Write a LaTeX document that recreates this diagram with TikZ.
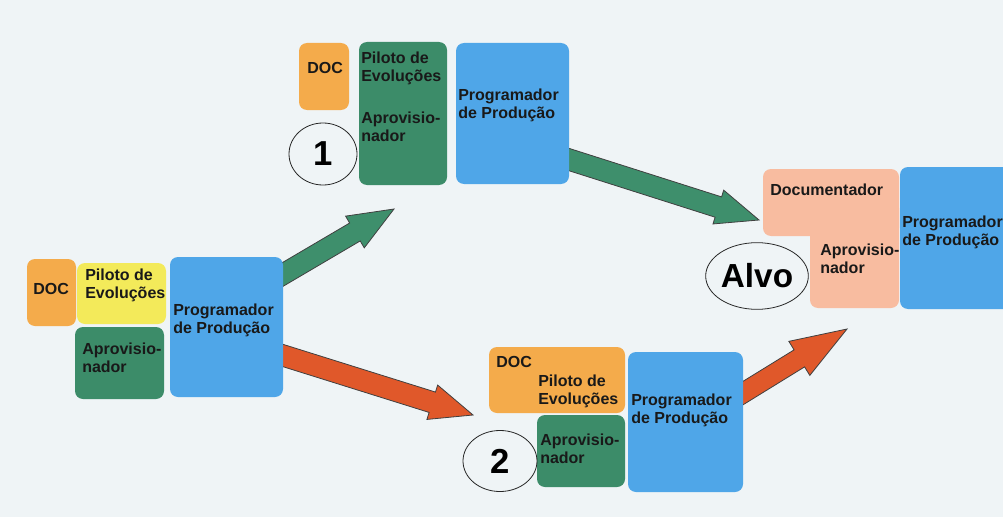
\documentclass[tikz,border=0pt]{standalone}
\usepackage{fontspec}
\setmainfont{Liberation Sans}
\usetikzlibrary{calc,fit,shapes.geometric}

\definecolor{bg}{HTML}{EFF4F6}
\definecolor{docorange}{HTML}{F4AB4B}
\definecolor{pilotyellow}{HTML}{F3EA5A}
\definecolor{aprgreen}{HTML}{3C8C69}
\definecolor{progblue}{HTML}{4FA6E8}
\definecolor{goalsalmon}{HTML}{F8BCA0}
\definecolor{arrowgreen}{HTML}{3E8F6C}
\definecolor{arrowred}{HTML}{E0582A}

% two stacked lines whose baseline is the first one
\newcommand\twolines[1]{\begin{tabular}[t]{@{}l@{}}#1\end{tabular}}

% block arrow: tail, tip, head length, shaft half-width, head half-width, colour
\newcommand\blockarrow[6]{%
  \coordinate (#1-neck) at ($(#2)!#3!(#1)$);
  \filldraw[arrowbody, fill=#6]
    ($(#1)!#4!90:(#2)$) -- ($(#1-neck)!#4!90:(#2)$) -- ($(#1-neck)!#5!90:(#2)$) -- (#2)
    -- ($(#1-neck)!#5!-90:(#2)$) -- ($(#1-neck)!#4!-90:(#2)$) -- ($(#1)!#4!-90:(#2)$) -- cycle;
}

\tikzset{
  card/.style={inner sep=0pt, rounded corners=6pt, fill=#1},
  txt/.style={anchor=base west, inner sep=0pt, text=black!90,
    font=\bfseries\fontsize{12pt}{13.5pt}\selectfont},
  tag/.style={draw=black!85, line width=0.6pt, ellipse, inner sep=0pt,
    font=\bfseries\fontsize{26pt}{26pt}\selectfont},
  arrowbody/.style={draw=black!75, line width=0.6pt, line join=miter},
}

\begin{document}
\begin{tikzpicture}[x=0.75pt, y=-0.75pt]
\useasboundingbox (0,0) rectangle (1003,517);
\fill[bg] (0,0) rectangle (1003,517);
\clip (0,0) rectangle (1003,517);

% arrow ends
\coordinate (g1a) at (275,279);  \coordinate (g1b) at (394,209);
\coordinate (r1a) at (275,353);  \coordinate (r1b) at (473,415);
\coordinate (g2a) at (561,157);  \coordinate (g2b) at (759,220);
\coordinate (r2a) at (735,398);  \coordinate (r2b) at (847,329);

\blockarrow{g1a}{g1b}{34pt}{7.8pt}{13.8pt}{arrowgreen}
\blockarrow{r1a}{r1b}{32pt}{8pt}{13.5pt}{arrowred}
\blockarrow{g2a}{g2b}{32pt}{8pt}{13.3pt}{arrowgreen}
\blockarrow{r2a}{r2b}{42pt}{7.5pt}{15pt}{arrowred}

% starting team
\node[card=docorange,   fit={(27,259)(76,326)}]   (ldoc)  {};
\node[card=pilotyellow, fit={(77,263)(166,324)}]  (lpil)  {};
\node[card=aprgreen,    fit={(75,327)(164,399)}]  (lapr)  {};
\node[card=progblue,    fit={(170,257)(283,397)}] (lprog) {};
\node[txt] (ldoct)  at (33,294)  {DOC};
\node[txt] (lpilt)  at (85,280)  {\twolines{Piloto de\\Evoluções}};
\node[txt] (laprt)  at (82,354)  {\twolines{Aprovisio-\\nador}};
\node[txt] (lprogt) at (173,315) {\twolines{Programador\\de Produção}};

% option 1
\node[card=docorange, fit={(299,43)(349,110)}]  (tdoc)  {};
\node[card=aprgreen,  fit={(359,42)(447,185)}]  (tgrn)  {};
\node[card=progblue,  fit={(456,43)(569,184)}]  (tprog) {};
\node[txt] (tdoct)  at (307,74)  {DOC};
\node[txt] (tpilt)  at (361,64)  {\twolines{Piloto de\\Evoluções}};
\node[txt] (taprt)  at (361,123) {\twolines{Aprovisio-\\nador}};
\node[txt] (tprogt) at (458,100) {\twolines{Programador\\de Produção}};
\node[tag, minimum width=51pt, minimum height=46.5pt] (one) at (323,154) {1};

% option 2
\node[card=docorange, fit={(489,347)(625,413)}] (bdoc)  {};
\node[card=aprgreen,  fit={(537,415)(625,487)}] (bapr)  {};
\node[card=progblue,  fit={(628,352)(743,492)}] (bprog) {};
\node[txt] (bdoct)  at (496,367) {DOC};
\node[txt] (bpilt)  at (538,386) {\twolines{Piloto de\\Evoluções}};
\node[txt] (bprogt) at (631,405) {\twolines{Programador\\de Produção}};
\node[txt] (baprt)  at (540,445) {\twolines{Aprovisio-\\nador}};
\node[tag, minimum width=55.5pt, minimum height=45.75pt] (two) at (500,461) {2};

% goal
\node[card=goalsalmon, fit={(810,200)(899,308)}]  (rapr)  {};
\node[card=goalsalmon, fit={(763,169)(899,236)}]  (rdoc)  {};
\node[card=progblue,   fit={(900,167)(1012,309)}] (rprog) {};
\node[txt] (rdoct)  at (770,195) {Documentador};
\node[txt] (raprt)  at (820,255) {\twolines{Aprovisio-\\nador}};
\node[txt] (rprogt) at (902,227) {\twolines{Programador\\de Produção}};
\node[tag, minimum width=77pt, minimum height=50pt,
      font=\bfseries\fontsize{25pt}{25pt}\selectfont] (alvo) at (757,276) {Alvo};
\end{tikzpicture}
\end{document}
